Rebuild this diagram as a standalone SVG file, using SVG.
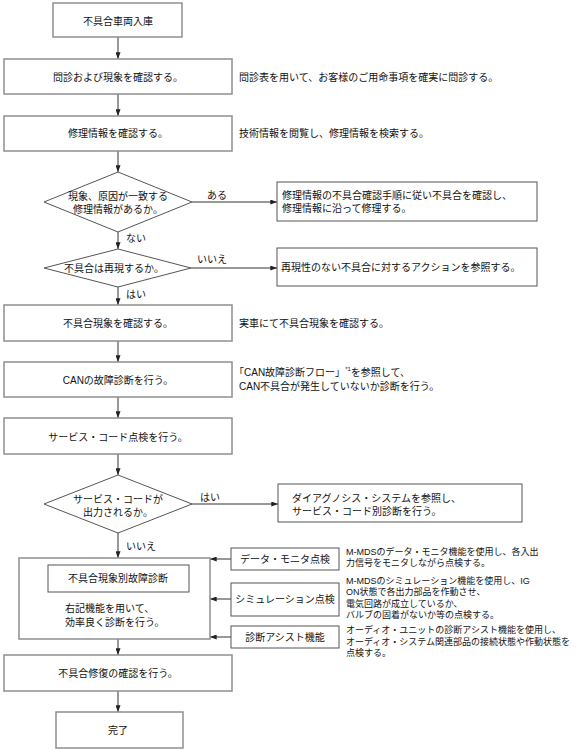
<svg xmlns="http://www.w3.org/2000/svg" width="578" height="751" viewBox="0 0 578 751">
<defs>
<marker id="ah" viewBox="0 0 8 6" refX="8" refY="3" markerWidth="7" markerHeight="5" orient="auto" markerUnits="userSpaceOnUse">
<path d="M0,0 L8,3 L0,6 z" fill="#222"/>
</marker>
<style>
text{font-family:"Liberation Sans","Noto Sans CJK JP",sans-serif;font-size:10px;fill:#111}
.c{text-anchor:middle;dominant-baseline:central}
.l{dominant-baseline:central}
.s{font-size:9px;dominant-baseline:central}
.main{fill:#fff;stroke:#8f8f8f;stroke-width:1.5}
.side{fill:#fff;stroke:#555;stroke-width:1}
.con line{stroke:#333;stroke-width:1;marker-end:url(#ah)}
</style>
</defs>
<rect width="578" height="751" fill="#fff"/>
<g id="connectors" class="con">
<line x1="118" y1="37" x2="118" y2="59"/>
<line x1="118" y1="94" x2="118" y2="116"/>
<line x1="118" y1="151" x2="118" y2="172"/>
<line x1="192" y1="202" x2="277" y2="202"/>
<line x1="118" y1="232" x2="118" y2="249"/>
<line x1="191" y1="268" x2="277" y2="268"/>
<line x1="118" y1="287" x2="118" y2="305"/>
<line x1="118" y1="341" x2="118" y2="362"/>
<line x1="118" y1="397" x2="118" y2="418"/>
<line x1="118" y1="454" x2="118" y2="475"/>
<line x1="192" y1="504" x2="278" y2="504"/>
<line x1="118" y1="533" x2="118" y2="558"/>
<line x1="231" y1="559" x2="210" y2="559"/>
<line x1="231" y1="599" x2="210" y2="599"/>
<line x1="231" y1="637" x2="210" y2="637"/>
<line x1="118" y1="639" x2="118" y2="655"/>
<line x1="118" y1="691" x2="118" y2="712"/>
</g>
<g id="labels">
<text x="207" y="195" class="l">ある</text>
<text x="126" y="238" class="l">ない</text>
<text x="197" y="259" class="l">いいえ</text>
<text x="126" y="294" class="l">はい</text>
<text x="200" y="497" class="l">はい</text>
<text x="126" y="546" class="l">いいえ</text>
</g>
<g id="n1"><rect class="main" x="53" y="3" width="129" height="34"/><text x="118" y="21" class="c">不具合車両入庫</text></g>
<g id="n2"><rect class="main" x="4" y="59" width="228" height="35"/><text x="118" y="77" class="c">問診および現象を確認する。</text><text x="239" y="77" class="l">問診表を用いて、お客様のご用命事項を確実に問診する。</text></g>
<g id="n3"><rect class="main" x="4" y="116" width="228" height="35"/><text x="118" y="133" class="c">修理情報を確認する。</text><text x="239" y="133" class="l">技術情報を閲覧し、修理情報を検索する。</text></g>
<g id="d1"><polygon class="side" points="118,172 192,202 118,232 44,202"/><text x="118" y="196" class="c">現象、原因が一致する</text><text x="118" y="209" class="c">修理情報があるか。</text></g>
<g id="r1"><rect class="side" x="277" y="182" width="260" height="39"/><text x="282" y="195" class="l">修理情報の不具合確認手順に従い不具合を確認し、</text><text x="282" y="208" class="l">修理情報に沿って修理する。</text></g>
<g id="d2"><polygon class="side" points="118,249 191,268 118,287 44,268"/><text x="114" y="268" class="c">不具合は再現するか。</text></g>
<g id="r2"><rect class="side" x="277" y="248" width="260" height="38"/><text x="281" y="267" class="l">再現性のない不具合に対するアクションを参照する。</text></g>
<g id="n4"><rect class="main" x="4" y="305" width="228" height="36"/><text x="118" y="323" class="c">不具合現象を確認する。</text><text x="239" y="323" class="l">実車にて不具合現象を確認する。</text></g>
<g id="n5"><rect class="main" x="4" y="362" width="228" height="35"/><text x="118" y="380" class="c">CANの故障診断を行う。</text><text x="234" y="372" class="l">「CAN故障診断フロー」<tspan font-size="6" dy="-3">*1</tspan><tspan dy="3">を参照して、</tspan></text><text x="239" y="386" class="l">CAN不具合が発生していないか診断を行う。</text></g>
<g id="n6"><rect class="main" x="4" y="418" width="228" height="36"/><text x="118" y="437" class="c">サービス・コード点検を行う。</text></g>
<g id="d3"><polygon class="side" points="118,475 192,504 118,533 44,504"/><text x="118" y="499" class="c">サービス・コードが</text><text x="118" y="512" class="c">出力されるか。</text></g>
<g id="r3"><rect class="side" x="278" y="484" width="244" height="38"/><text x="292" y="498" class="l">ダイアグノシス・システムを参照し、</text><text x="292" y="511" class="l">サービス・コード別診断を行う。</text></g>
<g id="n_big"><rect class="main" x="19" y="558" width="191" height="81"/><rect class="side" x="48" y="565" width="141" height="27"/><text x="118" y="578" class="c">不具合現象別故障診断</text><text x="65" y="608" class="l">右記機能を用いて、</text><text x="65" y="622" class="l">効率良く診断を行う。</text></g>
<g id="f1"><rect class="side" x="231" y="548" width="108" height="22"/><text x="285" y="559" class="c">データ・モニタ点検</text><text x="346" y="552" class="s">M-MDSのデータ・モニタ機能を使用し、各入出</text><text x="346" y="563" class="s">力信号をモニタしながら点検する。</text></g>
<g id="f2"><rect class="side" x="231" y="583" width="108" height="33"/><text x="285" y="599" class="c">シミュレーション点検</text><text x="346" y="581" class="s">M-MDSのシミュレーション機能を使用し、IG</text><text x="346" y="592" class="s">ON状態で各出力部品を作動させ、</text><text x="346" y="604" class="s">電気回路が成立しているか、</text><text x="346" y="615" class="s">バルブの固着がないか等の点検する。</text></g>
<g id="f3"><rect class="side" x="231" y="626" width="108" height="22"/><text x="285" y="637" class="c">診断アシスト機能</text><text x="346" y="630" class="s">オーディオ・ユニットの診断アシスト機能を使用し、</text><text x="346" y="642" class="s">オーディオ・システム関連部品の接続状態や作動状態を</text><text x="346" y="653" class="s">点検する。</text></g>
<g id="n7"><rect class="main" x="4" y="655" width="228" height="36"/><text x="118" y="673" class="c">不具合修復の確認を行う。</text></g>
<g id="n8"><rect class="main" x="56" y="712" width="127" height="36"/><text x="118" y="730" class="c">完了</text></g>
</svg>
